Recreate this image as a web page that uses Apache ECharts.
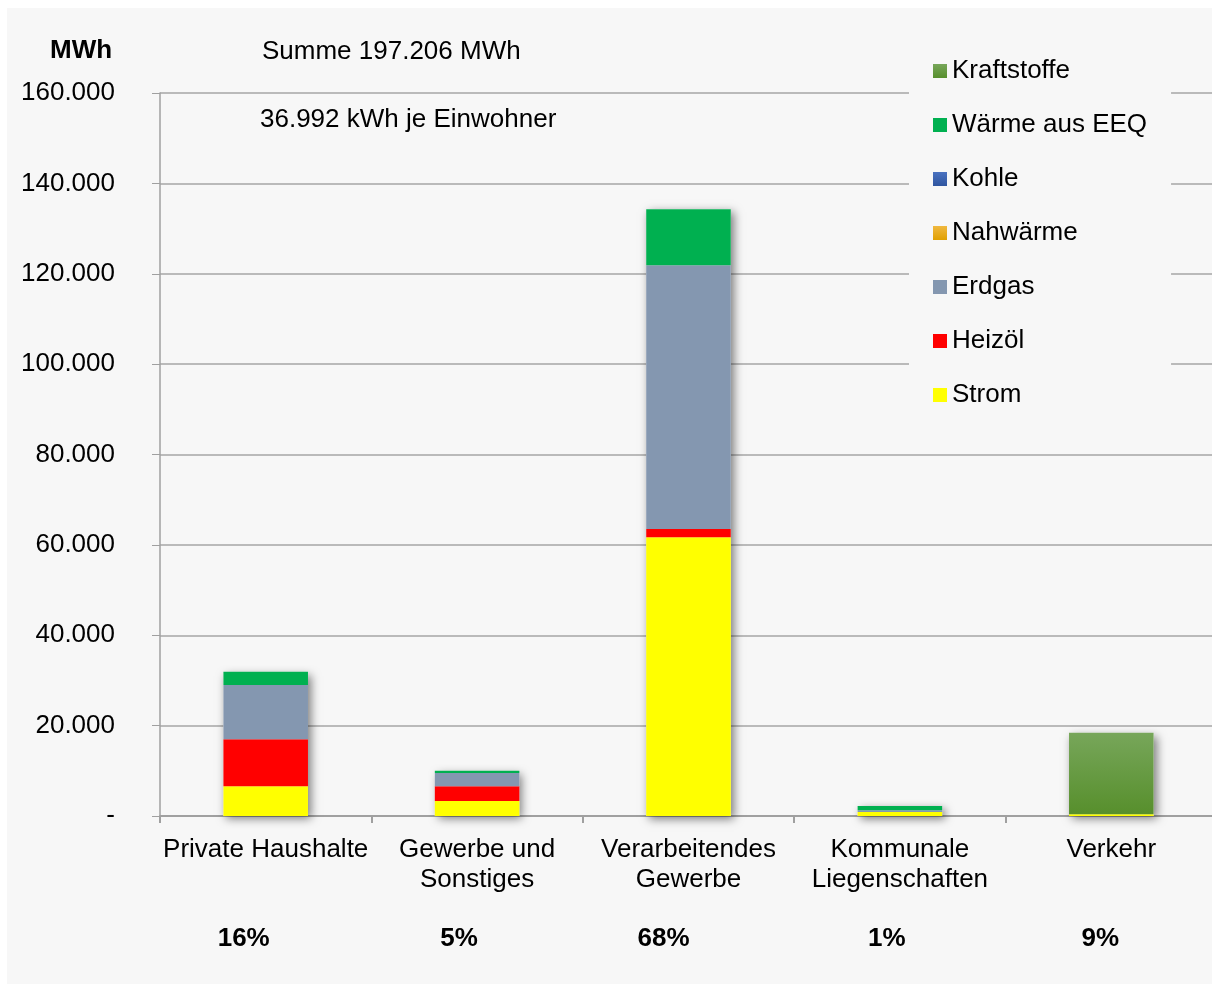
<!DOCTYPE html>
<html><head><meta charset="utf-8">
<script src="https://cdn.jsdelivr.net/npm/echarts@6/dist/echarts.min.js"></script>
<style>
html,body{margin:0;background:#fff;overflow:hidden;width:1212px;height:984px;}
#bg{position:absolute;left:7px;top:8px;width:1205px;height:976px;background:#f7f7f7;}
#chart{position:absolute;left:0;top:0;width:1225px;height:984px;}
</style></head>
<body><div id="bg"></div><div id="chart"></div>
<script>
const categories = ['Private Haushalte', 'Gewerbe und\nSonstiges', 'Verarbeitendes\nGewerbe', 'Kommunale\nLiegenschaften', 'Verkehr'];
const percents = ['16%', '5%', '68%', '1%', '9%'];
const strom = [6600, 3300, 61700, 900, 400];
const heizoel = [10400, 3300, 1800, 0, 0];
const erdgas = [12000, 2900, 58400, 400, 0];
const nahwaerme = [0, 0, 0, 0, 0];
const kohle = [0, 0, 0, 0, 0];
const waermeEEQ = [2900, 500, 12400, 900, 0];
const kraftstoffe = [0, 0, 0, 0, 18000];
const yTicks = [0, 20000, 40000, 60000, 80000, 100000, 120000, 140000, 160000];
const sumText = 'Summe 197.206 MWh';
const perCapitaText = '36.992 kWh je Einwohner';

const seriesDefs = [
  {name:'Strom', data:strom, color:'#ffff00'},
  {name:'Heizöl', data:heizoel, color:'#ff0000'},
  {name:'Erdgas', data:erdgas, color:'#8497b0'},
  {name:'Nahwärme', data:nahwaerme, color:{type:'linear',x:0,y:0,x2:0,y2:1,colorStops:[{offset:0,color:'#f0b840'},{offset:1,color:'#e0a000'}]}},
  {name:'Kohle', data:kohle, color:{type:'linear',x:0,y:0,x2:0,y2:1,colorStops:[{offset:0,color:'#4a72c0'},{offset:1,color:'#2f559f'}]}},
  {name:'Wärme aus EEQ', data:waermeEEQ, color:'#00b050'},
  {name:'Kraftstoffe', data:kraftstoffe, color:{type:'linear',x:0,y:0,x2:0,y2:1,colorStops:[{offset:0,color:'#77a65a'},{offset:1,color:'#578f2c'}]}}
];
const totals = categories.map((c,i)=>seriesDefs.reduce((s,d)=>s+d.data[i],0));

const fmt = v => v === 0 ? '-' : v.toLocaleString('de-DE');
const FONT = 'Liberation Sans, Arial, sans-serif';
// horizontal nudges (right padding) of the percentage labels
const pctPad = [44, 36, 50, 26, 22];

const series = [{
  name:'__total', type:'bar', data:totals, barWidth:'40%', barGap:'-100%', z:1, silent:true,
  itemStyle:{color:'#f7f7f7', shadowBlur:9, shadowOffsetX:3, shadowOffsetY:3, shadowColor:'rgba(0,0,0,0.5)'}
}].concat(seriesDefs.map(d=>({
  name:d.name, type:'bar', stack:'s', data:d.data, barWidth:'40%', z:3,
  itemStyle:{color:d.color}
})));

const chart = echarts.init(document.getElementById('chart'));
chart.setOption({
  animation:false,
  backgroundColor:'transparent',
  textStyle:{fontFamily:FONT},
  grid:{left:160, top:93, width:1057, height:723, containLabel:false},
  legend:{
    data:seriesDefs.map(d=>d.name).reverse(),
    orient:'vertical', left:909, top:47,
    padding:[11,24,12,24], itemGap:28, itemWidth:14, itemHeight:14,
    backgroundColor:'#f7f7f7', icon:'rect',
    textStyle:{fontSize:26, color:'#000', fontFamily:FONT}
  },
  xAxis:[{
    type:'category', data:categories, position:'bottom',
    axisLine:{lineStyle:{color:'#a0a0a0', width:2}},
    axisTick:{show:true, length:7, lineStyle:{color:'#a0a0a0', width:2}},
    axisLabel:{fontSize:26, color:'#000', lineHeight:30, margin:19, interval:0, fontFamily:FONT}
  },{
    type:'category', position:'bottom',
    data:percents.map((p,i)=>({value:p, textStyle:{padding:[0,pctPad[i],0,0]}})),
    axisLine:{show:false}, axisTick:{show:false},
    axisLabel:{fontSize:26, fontWeight:'bold', color:'#000', margin:110, interval:0, fontFamily:FONT}
  }],
  yAxis:{
    type:'value', min:yTicks[0], max:yTicks[yTicks.length-1], interval:yTicks[1]-yTicks[0],
    axisLine:{show:true, lineStyle:{color:'#a0a0a0', width:1.5}},
    axisTick:{show:true, length:8, lineStyle:{color:'#a0a0a0'}},
    splitLine:{lineStyle:{color:'#a6a6a6', width:1.5}},
    axisLabel:{fontSize:26, color:'#000', margin:45, formatter:fmt, fontFamily:FONT, padding:[4,0,0,0]}
  },
  graphic:[
    {type:'text', left:50, top:38, style:{text:'MWh', font:'bold 26px '+FONT, fill:'#000'}},
    {type:'text', left:262, top:39, style:{text:sumText, font:'26px '+FONT, fill:'#000'}},
    {type:'text', left:260, top:107, style:{text:perCapitaText, font:'26px '+FONT, fill:'#000'}}
  ],
  series:series
});
</script>
</body></html>
